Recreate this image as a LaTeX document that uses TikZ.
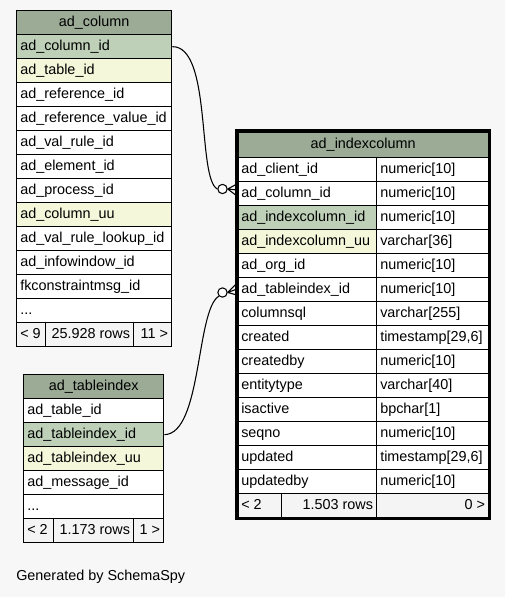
\documentclass[tikz,border=0pt]{standalone}
\usepackage{fontspec}
\setmainfont{Liberation Sans}
\usetikzlibrary{fit}
\definecolor{bg}{HTML}{F7F7F7}
\definecolor{hdr}{HTML}{9BAB96}
\definecolor{pk}{HTML}{BED1B8}
\definecolor{idx}{HTML}{F4F7DA}
\definecolor{ft}{HTML}{F4F4F4}
\tikzset{
  cellbox/.style={draw=black, line width=1pt, rectangle, inner sep=0pt, anchor=north west},
  txt/.style={inner sep=0pt, font=\fontsize{10.8}{12}\selectfont, text height=7.8pt, text depth=2.2pt},
  conn/.style={draw=black, line width=0.8pt},
  ring/.style={circle, draw=black, line width=0.8pt, fill=white, minimum size=7pt, inner sep=0pt},
}
% name, x1, y1, x2, y2, fill, text
\newcommand\lcell[7]{%
  \node[cellbox, fill=#6, minimum width={(#4-#2)*0.75pt}, minimum height={(#5-#3)*0.75pt}] (#1) at (#2,#3) {};
  \node[txt, anchor=west] (#1-t) at ([xshift=3pt]#1.west) {#7};}
\newcommand\ccell[7]{%
  \node[cellbox, fill=#6, minimum width={(#4-#2)*0.75pt}, minimum height={(#5-#3)*0.75pt}] (#1) at (#2,#3) {};
  \node[txt] (#1-t) at (#1.center) {#7};}
\newcommand\rcell[7]{%
  \node[cellbox, fill=#6, minimum width={(#4-#2)*0.75pt}, minimum height={(#5-#3)*0.75pt}] (#1) at (#2,#3) {};
  \node[txt, anchor=east] (#1-t) at ([xshift=-3pt]#1.east) {#7};}
\begin{document}
\begin{tikzpicture}[x=0.75pt,y=-0.75pt]
\fill[bg] (0,0) rectangle (505,597);
\useasboundingbox (0,0) rectangle (505,597);

% ---------------- ad_column ----------------
\ccell{c-h}{16}{10}{171}{34}{hdr}{ad\_column}
\lcell{c-r1}{16}{34}{171}{58}{pk}{ad\_column\_id}
\lcell{c-r2}{16}{58}{171}{82}{idx}{ad\_table\_id}
\lcell{c-r3}{16}{82}{171}{106}{white}{ad\_reference\_id}
\lcell{c-r4}{16}{106}{171}{130}{white}{ad\_reference\_value\_id}
\lcell{c-r5}{16}{130}{171}{154}{white}{ad\_val\_rule\_id}
\lcell{c-r6}{16}{154}{171}{178}{white}{ad\_element\_id}
\lcell{c-r7}{16}{178}{171}{202}{white}{ad\_process\_id}
\lcell{c-r8}{16}{202}{171}{226}{idx}{ad\_column\_uu}
\lcell{c-r9}{16}{226}{171}{250}{white}{ad\_val\_rule\_lookup\_id}
\lcell{c-r10}{16}{250}{171}{274}{white}{ad\_infowindow\_id}
\lcell{c-r11}{16}{274}{171}{298}{white}{fkconstraintmsg\_id}
\lcell{c-r12}{16}{298}{171}{322}{white}{...}
\lcell{c-f1}{16}{322}{45}{346}{ft}{< 9}
\rcell{c-f2}{45}{322}{133}{346}{ft}{25.928 rows}
\rcell{c-f3}{133}{322}{171}{346}{ft}{11 >}

% ---------------- ad_indexcolumn ----------------
\ccell{i-h}{237}{131}{488}{157}{hdr}{ad\_indexcolumn}
\lcell{i-a1}{237}{157}{376}{181}{white}{ad\_client\_id}
\lcell{i-b1}{376}{157}{488}{181}{white}{numeric[10]}
\lcell{i-a2}{237}{181}{376}{205}{white}{ad\_column\_id}
\lcell{i-b2}{376}{181}{488}{205}{white}{numeric[10]}
\lcell{i-a3}{237}{205}{376}{229}{pk}{ad\_indexcolumn\_id}
\lcell{i-b3}{376}{205}{488}{229}{white}{numeric[10]}
\lcell{i-a4}{237}{229}{376}{253}{idx}{ad\_indexcolumn\_uu}
\lcell{i-b4}{376}{229}{488}{253}{white}{varchar[36]}
\lcell{i-a5}{237}{253}{376}{277}{white}{ad\_org\_id}
\lcell{i-b5}{376}{253}{488}{277}{white}{numeric[10]}
\lcell{i-a6}{237}{277}{376}{301}{white}{ad\_tableindex\_id}
\lcell{i-b6}{376}{277}{488}{301}{white}{numeric[10]}
\lcell{i-a7}{237}{301}{376}{325}{white}{columnsql}
\lcell{i-b7}{376}{301}{488}{325}{white}{varchar[255]}
\lcell{i-a8}{237}{325}{376}{349}{white}{created}
\lcell{i-b8}{376}{325}{488}{349}{white}{timestamp[29,6]}
\lcell{i-a9}{237}{349}{376}{373}{white}{createdby}
\lcell{i-b9}{376}{349}{488}{373}{white}{numeric[10]}
\lcell{i-a10}{237}{373}{376}{397}{white}{entitytype}
\lcell{i-b10}{376}{373}{488}{397}{white}{varchar[40]}
\lcell{i-a11}{237}{397}{376}{421}{white}{isactive}
\lcell{i-b11}{376}{397}{488}{421}{white}{bpchar[1]}
\lcell{i-a12}{237}{421}{376}{445}{white}{seqno}
\lcell{i-b12}{376}{421}{488}{445}{white}{numeric[10]}
\lcell{i-a13}{237}{445}{376}{469}{white}{updated}
\lcell{i-b13}{376}{445}{488}{469}{white}{timestamp[29,6]}
\lcell{i-a14}{237}{469}{376}{493}{white}{updatedby}
\lcell{i-b14}{376}{469}{488}{493}{white}{numeric[10]}
\lcell{i-f1}{237}{493}{281}{517}{ft}{< 2}
\rcell{i-f2}{281}{493}{376}{517}{ft}{1.503 rows}
\rcell{i-f3}{376}{493}{488}{517}{ft}{0 >}
\node[draw=black, line width=2.4pt, inner sep=0pt, fit=(i-h)(i-f3)] (i-frame) {};

% ---------------- ad_tableindex ----------------
\ccell{t-h}{23}{374}{163}{398}{hdr}{ad\_tableindex}
\lcell{t-r1}{23}{398}{163}{422}{white}{ad\_table\_id}
\lcell{t-r2}{23}{422}{163}{446}{pk}{ad\_tableindex\_id}
\lcell{t-r3}{23}{446}{163}{470}{idx}{ad\_tableindex\_uu}
\lcell{t-r4}{23}{470}{163}{494}{white}{ad\_message\_id}
\lcell{t-r5}{23}{494}{163}{518}{white}{...}
\lcell{t-f1}{23}{518}{53}{542}{ft}{< 2}
\rcell{t-f2}{53}{518}{133}{542}{ft}{1.173 rows}
\rcell{t-f3}{133}{518}{163}{542}{ft}{1 >}

% ---------------- connectors ----------------
\node[ring] (o1) at (222.5,189) {};
\node[ring] (o2) at (222.5,292.5) {};
\coordinate (e1a) at (237,184);
\coordinate (e1b) at (237,190);
\coordinate (e1c) at (237,196);
\coordinate (e2a) at (237,283);
\coordinate (e2b) at (237,289);
\coordinate (e2c) at (237,295);
\draw[conn] (c-r1.east) .. controls (212,46) and (197,178) .. (o1.west);
\draw[conn] (o1.east) -- (e1a) (o1.east) -- (e1b) (o1.east) -- (e1c);
\draw[conn] (t-r2.east) .. controls (202,434) and (196,310) .. (o2.south west);
\draw[conn] (o2.east) -- (e2a) (o2.east) -- (e2b) (o2.east) -- (e2c);

\node[txt, anchor=west] (gen) at (16,577) {Generated by SchemaSpy};
\end{tikzpicture}
\end{document}
